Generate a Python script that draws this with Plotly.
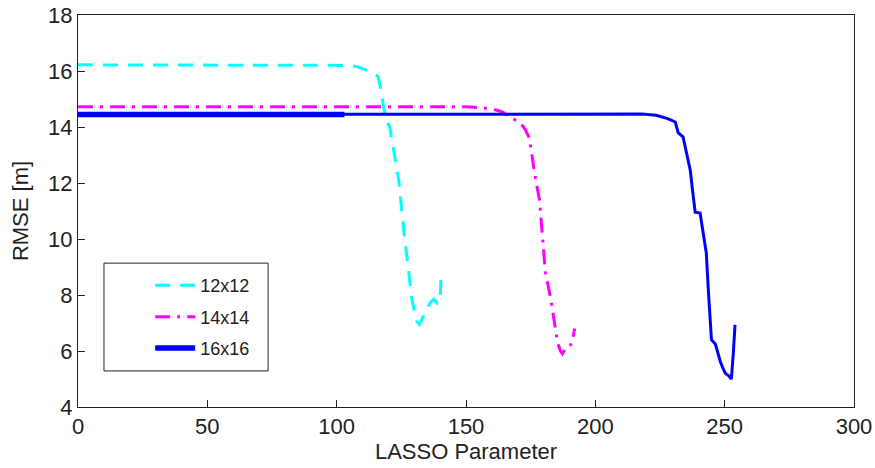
import plotly.graph_objects as go

# ---- data ----
x_12 = [0, 103, 105, 108, 111, 114, 116, 117, 118, 119, 120.5, 122, 124, 125, 126.3,
        127.9, 129, 130.2, 131, 132, 133, 134, 136, 137.5, 139, 140, 140.3]
y_12 = [16.22, 16.22, 16.2, 16.15, 16.05, 15.95, 15.8, 15.4, 14.8, 14.3, 14.0, 13.2, 12.1, 11.2, 10.0,
        8.8, 7.9, 7.35, 7.05, 6.95, 7.15, 7.3, 7.7, 7.85, 7.7, 7.75, 8.6]

x_14 = [0, 150, 157, 162, 164, 167, 171, 173, 174.5, 175.5, 176.4, 178.4, 179.6, 180.7,
        182.7, 184.2, 185.4, 186.5, 187.3, 188.5, 190, 191, 192]
y_14 = [14.72, 14.72, 14.68, 14.6, 14.54, 14.38, 14.14, 13.9, 13.6, 13.0, 12.4, 11.4, 10.0, 8.8,
        7.9, 7.0, 6.3, 6.0, 5.9, 6.1, 6.15, 6.3, 6.8]

x_16 = [0, 103, 210, 218, 223.5, 228, 230.9, 232, 233.9, 235, 236.7, 237.5, 238.6, 240.5,
        242, 242.9, 243.8, 244.9, 246.4, 247.5, 248.4, 249.5, 250.3, 251.5, 252.6, 253.4, 254]
y_16 = [14.45, 14.45, 14.45, 14.46, 14.42, 14.3, 14.18, 13.8, 13.65, 13.2, 12.46, 11.8, 10.96, 10.93,
        10.0, 9.5, 8.0, 6.4, 6.25, 5.85, 5.6, 5.35, 5.2, 5.12, 5.0, 6.0, 6.93]

thick_end = 103  # extent of the heavier blue segment

names = ["12x12", "14x14", "16x16"]
x_ticks = [0, 50, 100, 150, 200, 250, 300]
y_ticks = [4, 6, 8, 10, 12, 14, 16, 18]

FONT = "Liberation Sans, Arial, sans-serif"
INK = "#222222"

fig = go.Figure()
fig.add_trace(go.Scatter(x=x_12, y=y_12, mode="lines", name=names[0], legendrank=1,
                         legendgroup="a",
                         line=dict(color="#00FFFF", width=3, dash="15px,10px")))
fig.add_trace(go.Scatter(x=x_14, y=y_14, mode="lines", name=names[1], legendrank=2,
                         legendgroup="b",
                         line=dict(color="#FF00FF", width=3, dash="15px,7px,3px,7px")))
fig.add_trace(go.Scatter(x=x_16, y=y_16, mode="lines", name=names[2], showlegend=False,
                         line=dict(color="#0000FF", width=3)))
xs_thick = [v for v in x_16 if v <= thick_end]
ys_thick = [y_16[i] for i, v in enumerate(x_16) if v <= thick_end]
fig.add_trace(go.Scatter(x=xs_thick, y=ys_thick, mode="lines", name=names[2], legendrank=3,
                         legendgroup="c",
                         line=dict(color="#0000FF", width=5.5)))

axis_common = dict(showline=True, linecolor=INK, linewidth=1, mirror=True,
                   ticks="inside", ticklen=7, tickcolor=INK, showgrid=False,
                   zeroline=False, automargin=False,
                   tickfont=dict(size=22, color=INK, family=FONT))

fig.update_xaxes(range=[0, 300], tickvals=x_ticks, ticktext=[str(v) for v in x_ticks],
                 title=dict(text="LASSO Parameter", font=dict(size=22, color=INK, family=FONT),
                            standoff=2),
                 **axis_common)
fig.update_yaxes(range=[4, 18], tickvals=y_ticks, ticktext=[str(v) for v in y_ticks],
                 title=dict(text="RMSE [m]", font=dict(size=22, color=INK, family=FONT),
                            standoff=13),
                 **axis_common)

# legend frame (drawn as a shape so it can be as wide as the original box)
fig.add_shape(type="rect", xref="paper", yref="paper",
              x0=0.0335, x1=0.245, y0=0.092, y1=0.367,
              line=dict(color=INK, width=1), fillcolor="white", layer="above")

fig.update_layout(
    width=875, height=468,
    margin=dict(l=78, r=21, t=15, b=61),
    plot_bgcolor="white", paper_bgcolor="white",
    font=dict(family=FONT, color=INK),
    legend=dict(x=0.093, y=0.357, xanchor="left", yanchor="top",
                bgcolor="rgba(0,0,0,0)", borderwidth=0,
                font=dict(size=18, family=FONT, color=INK),
                tracegroupgap=5, itemwidth=40),
)

fig.write_html("out.html", config={"displayModeBar": False},
               post_script="document.body.style.margin='0';")
